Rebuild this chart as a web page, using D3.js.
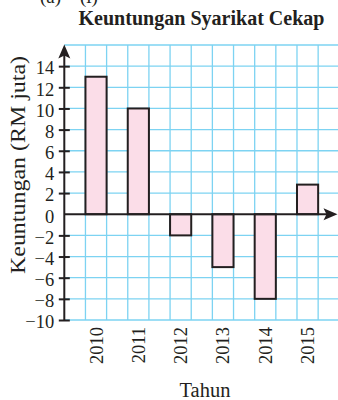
<!DOCTYPE html>
<html>
<head>
<meta charset="utf-8">
<script src="https://cdn.jsdelivr.net/npm/d3@7"></script>
<style>
  html, body { margin: 0; padding: 0; background: #fff; }
  svg { display: block; }
  text { font-family: "Liberation Serif", "DejaVu Serif", serif; fill: #231f20; }
</style>
</head>
<body>
<svg id="chart" width="338" height="400"></svg>
<script>
// Profit of Syarikat Cekap per year (RM million)
const years = ["2010", "2011", "2012", "2013", "2014", "2015"];
const profits = [13, 10, -2, -5, -8, 2.8];
const yTicks = [-10, -8, -6, -4, -2, 0, 2, 4, 6, 8, 10, 12, 14];
const gridValues = [-10, -8, -6, -4, -2, 2, 4, 6, 8, 10, 12, 14, 16];

const titleText = "Keuntungan Syarikat Cekap";
const yLabel = "Keuntungan (RM juta)";
const xLabel = "Tahun";

const svg = d3.select("#chart");
const ink = "#231f20";
const gridColor = "#7dd3f2";

const x0 = 64.3, x1 = 339.3;
const y = d3.scaleLinear().domain([-10, 16]).range([320, 45]);
const x = d3.scaleBand().domain(years).range([x0, x1]).paddingInner(0.5).paddingOuter(0.5);
const cell = x.bandwidth();

// part marker at the very top edge of the page
svg.append("text").attr("x", 40).attr("y", 3).attr("font-size", 19).text("(a)");
svg.append("text").attr("x", 80).attr("y", 3).attr("font-size", 19).text("(i)");

// title
svg.append("text")
  .attr("x", 201.5).attr("y", 25)
  .attr("text-anchor", "middle")
  .attr("font-size", 20).attr("font-weight", "bold")
  .attr("textLength", 246).attr("lengthAdjust", "spacingAndGlyphs")
  .text(titleText);

// grid
const grid = svg.append("g").attr("stroke", gridColor).attr("stroke-width", 1.3);
grid.selectAll("line.h").data(gridValues).join("line")
  .attr("class", "h")
  .attr("x1", x0).attr("x2", 338)
  .attr("y1", d => y(d)).attr("y2", d => y(d));
grid.selectAll("line.v").data(d3.range(1, 13)).join("line")
  .attr("class", "v")
  .attr("x1", i => x0 + i * cell).attr("x2", i => x0 + i * cell)
  .attr("y1", y(16)).attr("y2", y(-10));

// bars
svg.append("g").selectAll("rect").data(years).join("rect")
  .attr("x", d => x(d))
  .attr("width", cell)
  .attr("y", (d, i) => y(Math.max(0, profits[i])))
  .attr("height", (d, i) => Math.abs(y(profits[i]) - y(0)))
  .attr("fill", "#fbdde8")
  .attr("stroke", ink)
  .attr("stroke-width", 2);

// y axis with ticks crossing the line
const yAxis = d3.axisLeft(y).tickValues(yTicks).tickSize(0).tickPadding(10)
  .tickFormat(d => d < 0 ? "\u2212" + Math.abs(d) : String(d));
const gy = svg.append("g").attr("transform", `translate(${x0},0)`).call(yAxis);
gy.select(".domain").remove();
gy.selectAll(".tick text")
  .attr("font-size", 18.5)
  .attr("font-family", "Liberation Serif, serif")
  .attr("fill", ink)
  .attr("dy", "0.42em");
gy.selectAll(".tick").filter(d => d !== 0).append("line")
  .attr("x1", -5.5).attr("x2", 5.5)
  .attr("stroke", ink).attr("stroke-width", 2);

// axis lines
svg.append("line")
  .attr("x1", x0).attr("x2", x0)
  .attr("y1", y(-10) + 1).attr("y2", 52)
  .attr("stroke", ink).attr("stroke-width", 2);
svg.append("line")
  .attr("x1", x0).attr("x2", 330)
  .attr("y1", y(0)).attr("y2", y(0))
  .attr("stroke", ink).attr("stroke-width", 2);

// arrowheads with notched backs
const arrow = "M0,0 L-6,14 L0,11 L6,14 Z";
svg.append("path").attr("d", arrow).attr("fill", ink)
  .attr("transform", `translate(${x0},44.5)`);
svg.append("path").attr("d", arrow).attr("fill", ink)
  .attr("transform", `translate(337.5,${y(0)}) rotate(90)`);

// x category labels, rotated
const xAxis = d3.axisBottom(x).tickSize(0).tickPadding(0);
const gx = svg.append("g").attr("transform", `translate(0,${y(-10)})`).call(xAxis);
gx.select(".domain").remove();
gx.selectAll(".tick text")
  .attr("font-size", 18.5)
  .attr("font-family", "Liberation Serif, serif")
  .attr("fill", ink)
  .attr("transform", "rotate(-90)")
  .attr("text-anchor", "end")
  .attr("x", -7)
  .attr("y", 0)
  .attr("dy", "0.35em");

// axis titles
svg.append("text")
  .attr("transform", `translate(25,165) rotate(-90)`)
  .attr("text-anchor", "middle")
  .attr("font-size", 21)
  .attr("textLength", 218).attr("lengthAdjust", "spacingAndGlyphs")
  .text(yLabel);
svg.append("text")
  .attr("x", 205).attr("y", 396.5)
  .attr("text-anchor", "middle")
  .attr("font-size", 20.5)
  .text(xLabel);
</script>
</body>
</html>
